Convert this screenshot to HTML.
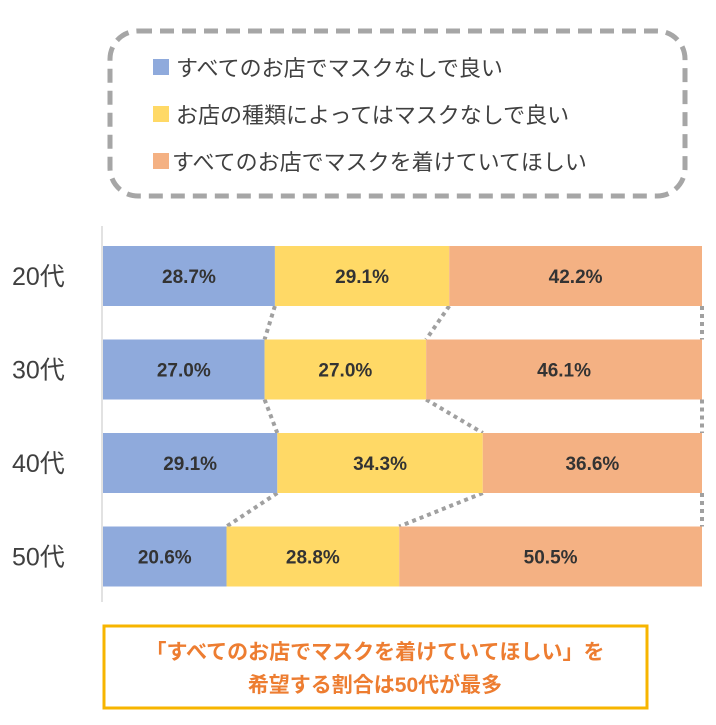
<!DOCTYPE html>
<html><head><meta charset="utf-8"><style>
body{margin:0;background:#fff;width:716px;height:720px;overflow:hidden;font-family:"Liberation Sans","Noto Sans CJK JP",sans-serif;}
</style></head><body>
<svg width="716" height="720">
<rect x="110" y="31" width="575" height="165" rx="28" fill="none" stroke="#a6a6a6" stroke-width="5" stroke-dasharray="14 8"/>
<g font-size="22" fill="#404040">
<g><rect x="153" y="59" width="16" height="16" fill="#8faadc"/><text x="176" y="76">すべてのお店でマスクなしで良い</text></g>
<g><rect x="153" y="106" width="16" height="16" fill="#ffd966"/><text x="176" y="123">お店の種類によってはマスクなしで良い</text></g>
<g><rect x="153" y="153" width="16" height="16" fill="#f4b183"/><text x="172" y="170">すべてのお店でマスクを着けていてほしい</text></g>
</g>
<line x1="102" y1="226" x2="102" y2="602" stroke="#d9d9d9" stroke-width="1.5"/>
<g id="plot"></g>
<rect x="104" y="626" width="543" height="82" fill="#fff" stroke="#f7b500" stroke-width="3"/>
<g font-size="21" font-weight="bold" fill="#ed7d31" text-anchor="middle">
<text x="375" y="659">「すべてのお店でマスクを着けていてほしい」を</text>
<text x="375" y="692">希望する割合は50代が最多</text>
</g>
</svg>
<script>
const categories=["20代","30代","40代","50代"];
const seriesNoMask=[28.7,27.0,29.1,20.6];
const seriesDepends=[29.1,27.0,34.3,28.8];
const seriesMask=[42.2,46.1,36.6,50.5];
const colors=["#8faadc","#ffd966","#f4b183"];
const NS="http://www.w3.org/2000/svg";
const g=document.getElementById("plot");
const x0=103,x1=702,y0=246,step=93.5,bh=60;
const xs=v=>x0+v/100*(x1-x0);
const yTop=i=>y0+i*step;
function mk(t,a){const e=document.createElementNS(NS,t);for(const k in a)e.setAttribute(k,a[k]);g.appendChild(e);return e;}
const series=[seriesNoMask,seriesDepends,seriesMask];
const bounds=categories.map((c,i)=>{let cum=0;const b=[0];series.forEach(s=>{cum+=s[i];b.push(cum);});return b;});
// connectors
for(let i=0;i<categories.length-1;i++){
 for(let k=1;k<=3;k++){
  const tot=bounds[i][3],tot2=bounds[i+1][3];
  const l=mk("line",{x1:xs(bounds[i][k]/tot*100),y1:yTop(i)+bh,x2:xs(bounds[i+1][k]/tot2*100),y2:yTop(i+1),stroke:"#a0a0a0","stroke-width":4,"stroke-dasharray":"4 4"});
  
  
 }
}
categories.forEach((c,i)=>{
 const y=yTop(i),tot=bounds[i][3];
 const t=mk("text",{x:12,y:y+bh/2+9,"font-size":25,fill:"#404040"});
 t.textContent=c;
 
 
 series.forEach((s,k)=>{
  const a=xs(bounds[i][k]/tot*100),b=xs(bounds[i][k+1]/tot*100);
  const r=mk("rect",{x:a,y:y,width:b-a,height:bh,fill:colors[k]});
  
  
  const tx=mk("text",{x:(a+b)/2,y:y+bh/2+7,"font-size":19,"font-weight":"bold",fill:"#333","text-anchor":"middle"});
  tx.textContent=s[i].toFixed(1)+"%";
  
  
 });
});
</script>
</body></html>
